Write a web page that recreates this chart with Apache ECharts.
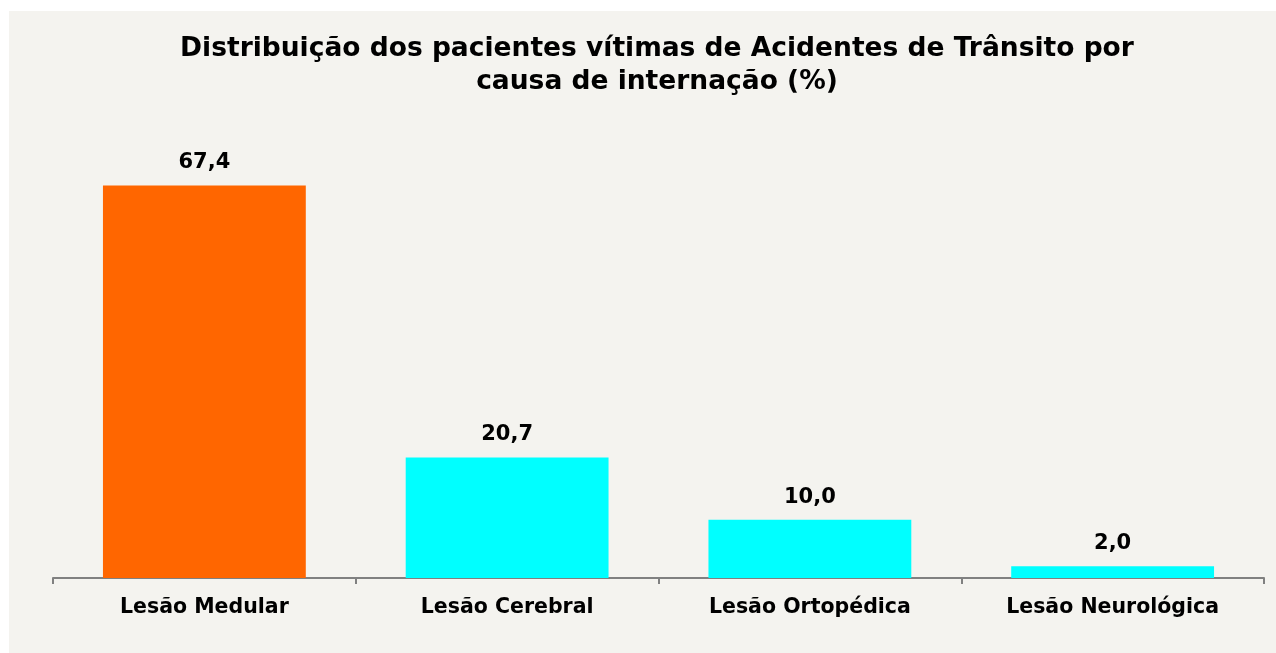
<!DOCTYPE html>
<html>
<head>
<meta charset="utf-8">
<script src="https://cdn.jsdelivr.net/npm/echarts@6/dist/echarts.min.js"></script>
<style>
  html, body { margin: 0; padding: 0; background: #ffffff; }
  #chart { position: absolute; left: 9px; top: 11px; width: 1267px; height: 642px; background: #f4f3ef; }
</style>
</head>
<body>
<div id="chart"></div>
<script>
// categorias e valores (%)
var categorias = ['Lesão Medular', 'Lesão Cerebral', 'Lesão Ortopédica', 'Lesão Neurológica'];
var valores = [67.4, 20.7, 10.0, 2.0];
var cores = ['#ff6600', '#00ffff', '#00ffff', '#00ffff'];

var chart = echarts.init(document.getElementById('chart'));
chart.setOption({
	backgroundColor: 'transparent',
	animation: false,
	title: {
		text: 'Distribuição dos pacientes vítimas de Acidentes de Trânsito por\ncausa de internação (%)',
		left: 643,
		textAlign: 'center',
		top: 17,
		textStyle: {
			fontFamily: 'DejaVu Sans',
			fontWeight: 'bold',
			fontSize: 26.5,
			lineHeight: 33,
			color: '#000'
		}
	},
	grid: {
		left: 44,
		right: 12,
		top: 101,
		bottom: 75
	},
	xAxis: {
		type: 'category',
		data: categorias,
		axisLine: { lineStyle: { color: '#808080', width: 2 } },
		axisTick: { show: true, length: 6, lineStyle: { color: '#808080', width: 2 } },
		axisLabel: {
			margin: 19,
			fontFamily: 'DejaVu Sans',
			fontWeight: 'bold',
			fontSize: 20.5,
			color: '#000'
		}
	},
	yAxis: {
		type: 'value',
		min: 0,
		max: 80,
		show: false
	},
	series: [{
		type: 'bar',
		barWidth: '67%',
		data: valores.map(function (v, i) {
			return { value: v, itemStyle: { color: cores[i] } };
		}),
		label: {
			show: true,
			position: 'top',
			distance: 12,
			formatter: function (p) {
				return p.value.toFixed(1).replace('.', ',');
			},
			fontFamily: 'DejaVu Sans',
			fontWeight: 'bold',
			fontSize: 21,
			color: '#000'
		}
	}]
});
</script>
</body>
</html>
